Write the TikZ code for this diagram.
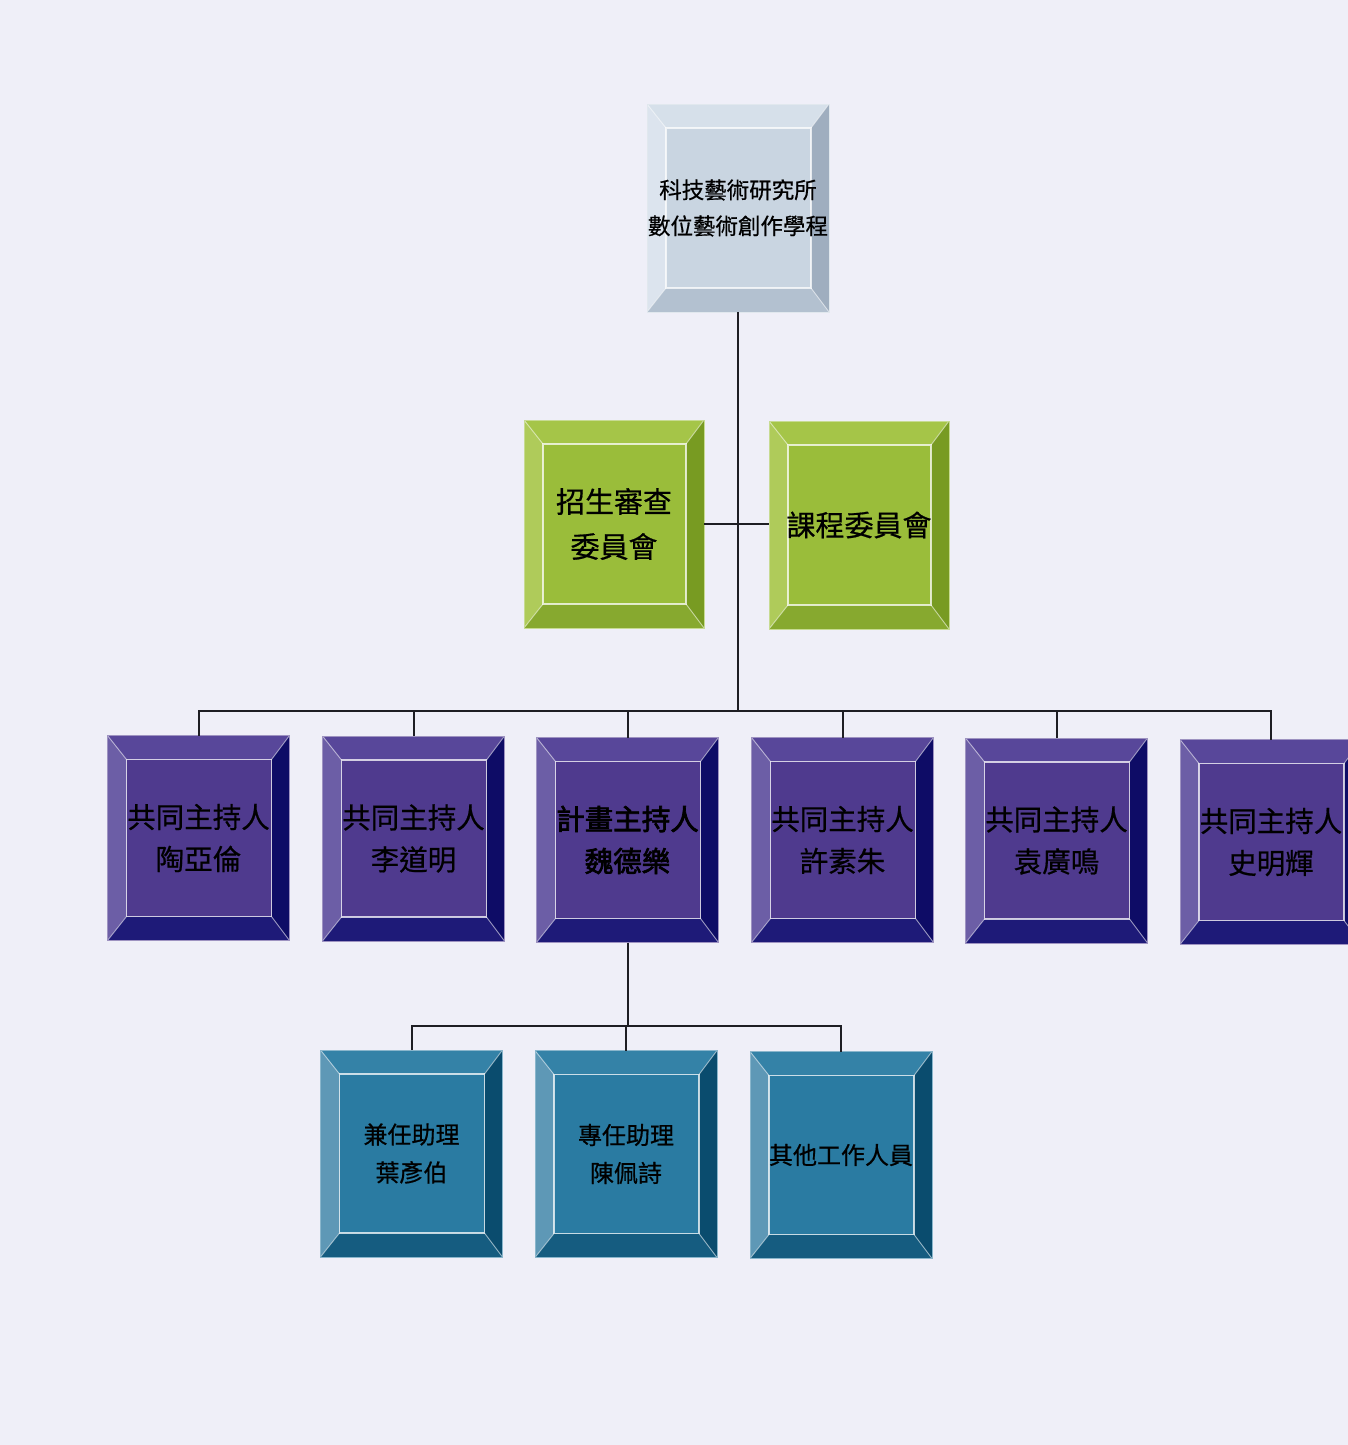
\documentclass[tikz,border=0pt]{standalone}
\usepackage{fontspec}
\newfontfamily\cjk[FakeBold=0.6]{Noto Sans CJK TC}
\newfontfamily\cjkbold[FakeBold=2.5]{Noto Sans CJK TC}
\definecolor{bgc}{HTML}{EFEFF8}
\definecolor{linec}{HTML}{1E1E24}
% top (grey-blue)
\definecolor{gryface}{HTML}{C9D5E1}
\definecolor{grytop}{HTML}{D6E0EA}
\definecolor{gryleft}{HTML}{DCE4EE}
\definecolor{gryright}{HTML}{9FAEBF}
\definecolor{grybot}{HTML}{B3C1D0}
% green
\definecolor{grnface}{HTML}{9ABD3A}
\definecolor{grntop}{HTML}{A5C548}
\definecolor{grnleft}{HTML}{AFCB5A}
\definecolor{grnright}{HTML}{789B22}
\definecolor{grnbot}{HTML}{87A92F}
% purple
\definecolor{purface}{HTML}{4F3A8E}
\definecolor{purtop}{HTML}{58479A}
\definecolor{purleft}{HTML}{6C5EA6}
\definecolor{purright}{HTML}{0E0C66}
\definecolor{purbot}{HTML}{1E1A78}
% teal
\definecolor{tealface}{HTML}{2A7BA2}
\definecolor{tealtop}{HTML}{3482A7}
\definecolor{tealleft}{HTML}{5E98B6}
\definecolor{tealright}{HTML}{0A4C6E}
\definecolor{tealbot}{HTML}{155C80}
\tikzset{
  bx/.style={rectangle, inner sep=0pt, outer sep=0pt, fill=#1face, align=center, text=black,
    draw=white!45!#1face, line width=0.8pt,
    path picture={
      \coordinate (bNW) at (path picture bounding box.north west);
      \coordinate (bNE) at (path picture bounding box.north east);
      \coordinate (bSW) at (path picture bounding box.south west);
      \coordinate (bSE) at (path picture bounding box.south east);
      \coordinate (iNW) at ([shift={(19pt,-24pt)}]bNW);
      \coordinate (iNE) at ([shift={(-18pt,-24pt)}]bNE);
      \coordinate (iSW) at ([shift={(19pt,24pt)}]bSW);
      \coordinate (iSE) at ([shift={(-18pt,24pt)}]bSE);
      \fill[#1top] (bNW) -- (bNE) -- (iNE) -- (iNW) -- cycle;
      \fill[#1left] (bNW) -- (iNW) -- (iSW) -- (bSW) -- cycle;
      \fill[#1right] (bNE) -- (bSE) -- (iSE) -- (iNE) -- cycle;
      \fill[#1bot] (bSW) -- (iSW) -- (iSE) -- (bSE) -- cycle;
      \draw[white, opacity=0.75, line width=1.2pt] (iNW) rectangle (iSE);
      \draw[white, opacity=0.55, line width=0.9pt] (bNW) -- (iNW) (bNE) -- (iNE) (bSW) -- (iSW) (bSE) -- (iSE);
    }},
  topbox/.style={bx=gry, minimum width=182pt, minimum height=208pt, font=\cjk\fontsize{22.5}{36}\selectfont},
  grnbox/.style={bx=grn, minimum width=180pt, minimum height=208pt, font=\cjk\fontsize{29}{45}\selectfont},
  purbox/.style={bx=pur, minimum width=182pt, minimum height=205pt, font=\cjk\fontsize{28.5}{42}\selectfont},
  tealbox/.style={bx=teal, minimum width=182pt, minimum height=207pt, font=\cjk\fontsize{24}{38}\selectfont},
  conn/.style={draw=linec, line width=2pt}
}
\begin{document}
\begin{tikzpicture}[x=1pt, y=-1pt]
\useasboundingbox (0,0) rectangle (1348,1445);
\fill[bgc] (0,0) rectangle (1348,1445);
\clip (0,0) rectangle (1348,1445);
\coordinate (bus1) at (738,711);
\coordinate (bus2) at (627.5,1026);
\node[topbox] (top) at (738,208) {科技藝術研究所\\數位藝術創作學程};
\node[grnbox] (g1) at (614,524) {招生審查\\委員會};
\node[grnbox] (g2) at (859,525) {課程委員會};
\node[purbox] (p1) at (198.5,838) {共同主持人\\陶亞倫};
\node[purbox] (p2) at (413.5,838.5) {共同主持人\\李道明};
\node[purbox, font=\cjkbold\fontsize{28.5}{42}\selectfont] (p3) at (627.5,840) {計畫主持人\\魏德樂};
\node[purbox] (p4) at (842.5,840) {共同主持人\\許素朱};
\node[purbox] (p5) at (1056.5,840.5) {共同主持人\\袁廣鳴};
\node[purbox] (p6) at (1271,842) {共同主持人\\史明輝};
\node[tealbox] (t1) at (411.5,1153.5) {兼任助理\\葉彥伯};
\node[tealbox] (t2) at (626,1154) {專任助理\\陳佩詩};
\node[tealbox] (t3) at (841,1155) {其他工作人員};
\draw[conn] (top.south) -- (bus1);
\draw[conn] (g1.east) -- (g1.east -| g2.west);
\draw[conn] (p1.north) -- (p1.north |- bus1) -- (p6.north |- bus1) -- (p6.north);
\foreach \n in {p2,p3,p4,p5} { \draw[conn] (\n.north) -- (\n.north |- bus1); }
\draw[conn] (p3.south) -- (bus2);
\draw[conn] (t1.north) -- (t1.north |- bus2) -- (t3.north |- bus2) -- (t3.north);
\draw[conn] (t2.north) -- (t2.north |- bus2);
\end{tikzpicture}
\end{document}
